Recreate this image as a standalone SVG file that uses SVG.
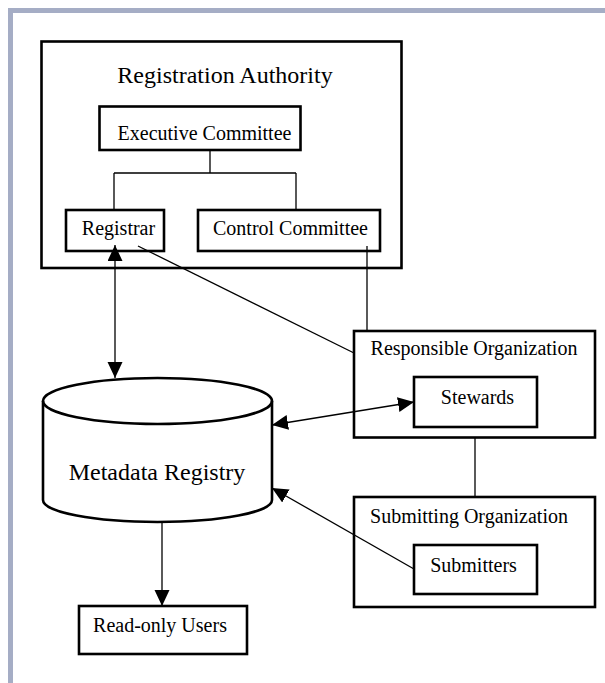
<svg xmlns="http://www.w3.org/2000/svg" width="605" height="683" viewBox="0 0 605 683">
<style>
.box{fill:#fff;stroke:#000;stroke-width:2.6}
.ln{fill:none;stroke:#000;stroke-width:1.3}
.t{font-family:"Liberation Serif","Times New Roman",serif;font-size:20px;fill:#000;text-anchor:middle}
.big{font-size:24px}
</style>
<defs>
<marker id="ah" markerUnits="userSpaceOnUse" markerWidth="17" markerHeight="16" refX="16" refY="7.5" orient="auto-start-reverse">
<path d="M0,0 L16,7.5 L0,15 Z" fill="#000"/>
</marker>
</defs>
<rect width="605" height="683" fill="#fff"/>
<g id="frame" fill="#a5adc5">
<rect x="8" y="8" width="597" height="5"/>
<rect x="8" y="8" width="5" height="675"/>
</g>
<g id="registration-authority">
<rect class="box" x="41.5" y="41.5" width="360" height="226.5"/>
<text class="t big" x="225" y="83">Registration Authority</text>
</g>
<g id="executive-committee">
<rect class="box" x="99.5" y="106.5" width="201" height="43.5"/>
<text class="t" x="204.5" y="140">Executive Committee</text>
</g>
<g id="registrar">
<rect class="box" x="66" y="210" width="98" height="41"/>
<text class="t" x="118.5" y="235">Registrar</text>
</g>
<g id="control-committee">
<rect class="box" x="198" y="210" width="182" height="41"/>
<text class="t" x="290.5" y="235">Control Committee</text>
</g>
<g id="responsible-organization">
<rect class="box" x="354" y="331" width="241" height="106.5"/>
<text class="t" x="474" y="355">Responsible Organization</text>
</g>
<g id="stewards">
<rect class="box" x="414" y="377" width="123" height="50"/>
<text class="t" x="477.5" y="404">Stewards</text>
</g>
<g id="submitting-organization">
<rect class="box" x="354" y="497" width="241" height="110"/>
<text class="t" x="469" y="523">Submitting Organization</text>
</g>
<g id="submitters">
<rect class="box" x="414" y="545" width="123" height="49"/>
<text class="t" x="473.5" y="572">Submitters</text>
</g>
<g id="metadata-registry">
<path d="M43,401 A114.5,23 0 0 1 272,401 L272,500 A114.5,22 0 0 1 43,500 Z" fill="#fff" stroke="#000" stroke-width="2.6"/>
<path d="M43,401 A114.5,23 0 0 0 272,401" fill="none" stroke="#000" stroke-width="2.6"/>
<text class="t big" x="157" y="480">Metadata Registry</text>
</g>
<g id="read-only-users">
<rect class="box" x="79" y="606" width="168" height="48"/>
<text class="t" x="160" y="632">Read-only Users</text>
</g>
<g id="connectors">
<path class="ln" d="M210,150 V173 M114,173 H296 M114,173 V210 M296,173 V210"/>
<line class="ln" x1="115" y1="245" x2="115" y2="378" marker-start="url(#ah)" marker-end="url(#ah)"/>
<line class="ln" x1="138" y1="246" x2="354" y2="353"/>
<line class="ln" x1="367" y1="246" x2="367" y2="331"/>
<line class="ln" x1="272" y1="425" x2="414" y2="402" marker-start="url(#ah)" marker-end="url(#ah)"/>
<line class="ln" x1="414" y1="569" x2="272" y2="488" marker-end="url(#ah)"/>
<line class="ln" x1="475" y1="437.5" x2="475" y2="497"/>
<line class="ln" x1="162" y1="522" x2="162" y2="606" marker-end="url(#ah)"/>
</g>
</svg>
